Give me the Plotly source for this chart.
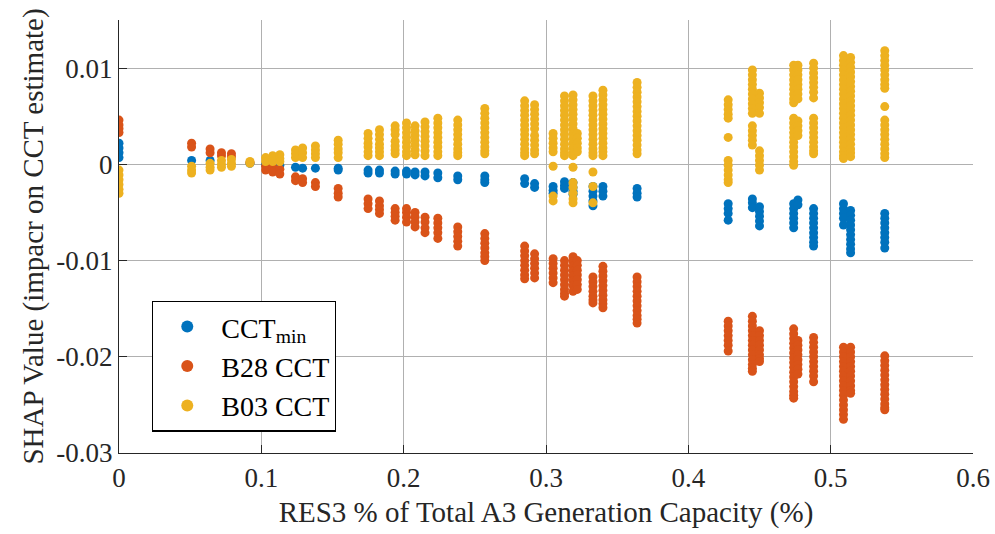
import plotly.graph_objects as go

# ---------------- data ----------------
CCT_X = [0.0, 0.051, 0.064, 0.092, 0.103, 0.108, 0.113, 0.124, 0.129, 0.138, 0.154,
         0.175, 0.183, 0.194, 0.202, 0.208, 0.215, 0.224, 0.238, 0.257, 0.285, 0.292,
         0.305, 0.313, 0.319, 0.333, 0.340, 0.364, 0.428, 0.445, 0.450, 0.474, 0.477,
         0.488, 0.509, 0.514, 0.538]
CCT_Y = [
    [0.0022, 0.0017, 0.0012, 0.0007],
    [0.0004], [0.0004], [0.0001], [0.0000], [-0.0001], [-0.0001],
    [-0.0003], [-0.0004], [-0.0004], [-0.0004, -0.0006],
    [-0.0006, -0.0009], [-0.0006, -0.0009], [-0.0007, -0.0010],
    [-0.0007, -0.0010], [-0.0008, -0.0011], [-0.0008, -0.0012],
    [-0.0009, -0.0014], [-0.0012, -0.0016], [-0.0012, -0.0016, -0.0019],
    [-0.0015, -0.0020], [-0.0020, -0.0024],
    [-0.0023, -0.0027, -0.0030], [-0.0018, -0.0022, -0.0025],
    [-0.0019, -0.0024, -0.0028, -0.0031],
    [-0.0023, -0.0028, -0.0033, -0.0038, -0.0043],
    [-0.0023, -0.0028, -0.0033], [-0.0025, -0.0030, -0.0034],
    [-0.0041, -0.0046, -0.0051, -0.0058],
    [-0.0036, -0.0040, -0.0045],
    [-0.0044, -0.0049, -0.0054, -0.0059, -0.0064],
    [-0.0041, -0.0046, -0.0051, -0.0056, -0.0061, -0.0066],
    [-0.0037, -0.0042],
    [-0.0046, -0.0051, -0.0056, -0.0061, -0.0066, -0.0071, -0.0076, -0.0081, -0.0085],
    [-0.0041, -0.0046, -0.0051, -0.0056, -0.0063],
    [-0.0048, -0.0053, -0.0058, -0.0063, -0.0068, -0.0073, -0.0078, -0.0083, -0.0088, -0.0092],
    [-0.0051, -0.0056, -0.0061, -0.0066, -0.0071, -0.0076, -0.0081, -0.0087],
]

B28_X = [0.0, 0.051, 0.064, 0.072, 0.079, 0.092, 0.103, 0.108, 0.113, 0.124, 0.129,
         0.138, 0.154, 0.175, 0.183, 0.194, 0.202, 0.208, 0.215, 0.224, 0.238, 0.257,
         0.285, 0.292, 0.305, 0.313, 0.319, 0.322, 0.333, 0.340, 0.364, 0.428, 0.445,
         0.450, 0.474, 0.477, 0.488, 0.509, 0.514, 0.538]
B28_Y = [
    [0.0046, 0.0041, 0.0037, 0.0033],
    [0.0022, 0.0018], [0.0016, 0.0012], [0.0012, 0.0009], [0.0011, 0.0008],
    [0.0002],
    [-0.0002, -0.0006], [-0.0003, -0.0008], [-0.0005, -0.0010],
    [-0.0013, -0.0017], [-0.0015, -0.0019], [-0.0019, -0.0023],
    [-0.0025, -0.0030, -0.0034],
    [-0.0036, -0.0041, -0.0046],
    [-0.0038, -0.0043, -0.0047, -0.0051],
    [-0.0046, -0.0050, -0.0054, -0.0058],
    [-0.0046, -0.0050, -0.0055, -0.0060],
    [-0.0050, -0.0055, -0.0060, -0.0065],
    [-0.0055, -0.0060, -0.0066, -0.0071],
    [-0.0056, -0.0061, -0.0066, -0.0071, -0.0077],
    [-0.0065, -0.0070, -0.0075, -0.0080, -0.0085],
    [-0.0072, -0.0077, -0.0082, -0.0087, -0.0092, -0.0096, -0.0100],
    [-0.0085, -0.0090, -0.0095, -0.0100, -0.0105, -0.0110, -0.0115, -0.0119],
    [-0.0093, -0.0098, -0.0103, -0.0108, -0.0113, -0.0118],
    [-0.0098, -0.0103, -0.0108, -0.0113, -0.0118, -0.0123],
    [-0.0100, -0.0105, -0.0110, -0.0115, -0.0120, -0.0125, -0.0130, -0.0134, -0.0137],
    [-0.0096, -0.0101, -0.0106, -0.0111, -0.0116, -0.0121, -0.0126, -0.0132],
    [-0.0100, -0.0105, -0.0110, -0.0115, -0.0120, -0.0125, -0.0130],
    [-0.0117, -0.0122, -0.0127, -0.0132, -0.0137, -0.0141, -0.0144],
    [-0.0106, -0.0111, -0.0116, -0.0121, -0.0126, -0.0131, -0.0136, -0.0141, -0.0145, -0.0149],
    [-0.0117, -0.0122, -0.0127, -0.0132, -0.0137, -0.0142, -0.0147, -0.0152, -0.0157, -0.0161, -0.0165],
    [-0.0163, -0.0168, -0.0173, -0.0178, -0.0183, -0.0188, -0.0194],
    [-0.0158, -0.0163, -0.0168, -0.0173, -0.0178, -0.0183, -0.0188, -0.0193, -0.0198,
     -0.0203, -0.0208, -0.0212, -0.0215],
    [-0.0173, -0.0178, -0.0183, -0.0188, -0.0193, -0.0198, -0.0202, -0.0205],
    [-0.0171, -0.0176, -0.0181, -0.0186, -0.0191, -0.0196, -0.0201, -0.0206, -0.0211,
     -0.0216, -0.0221, -0.0226, -0.0231, -0.0236, -0.0240, -0.0243],
    [-0.0183, -0.0188, -0.0193, -0.0198, -0.0203, -0.0208, -0.0213, -0.0218],
    [-0.0180, -0.0185, -0.0190, -0.0195, -0.0200, -0.0205, -0.0210, -0.0215, -0.0220, -0.0226],
    [-0.0190, -0.0195, -0.0200, -0.0205, -0.0210, -0.0215, -0.0220, -0.0225, -0.0230,
     -0.0235, -0.0240, -0.0245, -0.0250, -0.0255, -0.0260, -0.0265],
    [-0.0190, -0.0195, -0.0200, -0.0205, -0.0210, -0.0215, -0.0220, -0.0225, -0.0230,
     -0.0235, -0.0238],
    [-0.0199, -0.0204, -0.0209, -0.0214, -0.0219, -0.0224, -0.0229, -0.0234, -0.0239,
     -0.0244, -0.0249, -0.0253, -0.0255],
]

B03_X = [0.0, 0.051, 0.064, 0.072, 0.079, 0.092, 0.103, 0.108, 0.113, 0.124, 0.129,
         0.138, 0.154, 0.175, 0.183, 0.194, 0.202, 0.208, 0.215, 0.224, 0.238, 0.257,
         0.285, 0.292, 0.305, 0.313, 0.319, 0.322, 0.333, 0.340, 0.364, 0.428, 0.445,
         0.450, 0.474, 0.477, 0.488, 0.509, 0.514, 0.538]
B03_Y = [
    [-0.0006, -0.0011, -0.0016, -0.0021, -0.0026, -0.0030],
    [-0.0002, -0.0006, -0.0009],
    [0.0001, -0.0003, -0.0006],
    [0.0004, 0.0000, -0.0003],
    [0.0005, 0.0001, -0.0002],
    [0.0003, 0.0001],
    [0.0007, 0.0003],
    [0.0009, 0.0006, 0.0003],
    [0.0010, 0.0006, 0.0003],
    [0.0015, 0.0011, 0.0007],
    [0.0017, 0.0012, 0.0007],
    [0.0019, 0.0015, 0.0011, 0.0007],
    [0.0025, 0.0021, 0.0016, 0.0012, 0.0007],
    [0.0032, 0.0027, 0.0022, 0.0018, 0.0013, 0.0009],
    [0.0036, 0.0031, 0.0026, 0.0021, 0.0017, 0.0013, 0.0009],
    [0.0040, 0.0036, 0.0031, 0.0024, 0.0019, 0.0015, 0.0011],
    [0.0043, 0.0038, 0.0033, 0.0028, 0.0023, 0.0018, 0.0013, 0.0009],
    [0.0040, 0.0035, 0.0030, 0.0025, 0.0020, 0.0015, 0.0010],
    [0.0044, 0.0039, 0.0034, 0.0029, 0.0024, 0.0019, 0.0014, 0.0009],
    [0.0048, 0.0043, 0.0038, 0.0033, 0.0028, 0.0023, 0.0018, 0.0013, 0.0009],
    [0.0046, 0.0041, 0.0036, 0.0031, 0.0026, 0.0021, 0.0016, 0.0012, 0.0009],
    [0.0058, 0.0053, 0.0048, 0.0043, 0.0038, 0.0033, 0.0028, 0.0023, 0.0018, 0.0014, 0.0011],
    [0.0066, 0.0061, 0.0056, 0.0051, 0.0046, 0.0041, 0.0036, 0.0031, 0.0026, 0.0021,
     0.0016, 0.0012, 0.0009],
    [0.0062, 0.0057, 0.0052, 0.0047, 0.0042, 0.0037, 0.0030, 0.0025, 0.0020, 0.0015, 0.0011],
    [0.0032, 0.0027, 0.0022, 0.0017, 0.0013, -0.0002, -0.0033, -0.0038],
    [0.0071, 0.0066, 0.0061, 0.0056, 0.0051, 0.0046, 0.0041, 0.0036, 0.0031, 0.0026,
     0.0021, 0.0016, 0.0012, 0.0009],
    [0.0072, 0.0067, 0.0062, 0.0057, 0.0052, 0.0047, 0.0042, 0.0037, 0.0032, 0.0027,
     0.0022, 0.0017, 0.0012, 0.0009, -0.0003, -0.0019, -0.0024, -0.0030, -0.0036, -0.0040],
    [0.0032, 0.0027, 0.0022, 0.0017, 0.0013],
    [0.0071, 0.0066, 0.0061, 0.0056, 0.0051, 0.0046, 0.0041, 0.0036, 0.0031, 0.0026,
     0.0021, 0.0016, 0.0012, 0.0009, -0.0008, -0.0023, -0.0040],
    [0.0077, 0.0072, 0.0067, 0.0062, 0.0057, 0.0052, 0.0047, 0.0042, 0.0037, 0.0032,
     0.0027, 0.0022, 0.0017, 0.0013, 0.0009],
    [0.0085, 0.0080, 0.0075, 0.0070, 0.0065, 0.0060, 0.0055, 0.0050, 0.0045, 0.0040,
     0.0035, 0.0030, 0.0025, 0.0020, 0.0015, 0.0011],
    [0.0067, 0.0062, 0.0057, 0.0052, 0.0048, 0.0028, 0.0004, -0.0001, -0.0006, -0.0011,
     -0.0016, -0.0019],
    [0.0098, 0.0093, 0.0088, 0.0083, 0.0078, 0.0073, 0.0068, 0.0063, 0.0058, 0.0053,
     0.0040, 0.0035, 0.0030, 0.0025, 0.0020],
    [0.0074, 0.0069, 0.0064, 0.0059, 0.0053, 0.0014, 0.0009, 0.0004, -0.0001, -0.0006],
    [0.0103, 0.0098, 0.0093, 0.0088, 0.0083, 0.0078, 0.0073, 0.0068, 0.0064, 0.0048,
     0.0043, 0.0038, 0.0033, 0.0028, 0.0023, 0.0018, 0.0013, 0.0008, 0.0003, -0.0001],
    [0.0103, 0.0098, 0.0093, 0.0088, 0.0083, 0.0078, 0.0073, 0.0068, 0.0045, 0.0040,
     0.0035, 0.0030],
    [0.0105, 0.0100, 0.0095, 0.0090, 0.0085, 0.0080, 0.0075, 0.0069, 0.0048, 0.0043,
     0.0038, 0.0033, 0.0028, 0.0023, 0.0018, 0.0014, 0.0011],
    [0.0113, 0.0108, 0.0103, 0.0098, 0.0093, 0.0088, 0.0083, 0.0078, 0.0073, 0.0068,
     0.0063, 0.0058, 0.0053, 0.0048, 0.0043, 0.0038, 0.0033, 0.0028, 0.0023, 0.0018,
     0.0013, 0.0009, 0.0006],
    [0.0111, 0.0106, 0.0101, 0.0096, 0.0091, 0.0086, 0.0081, 0.0076, 0.0071, 0.0066,
     0.0061, 0.0056, 0.0051, 0.0046, 0.0041, 0.0036, 0.0031, 0.0026, 0.0021, 0.0016,
     0.0012, 0.0008],
    [0.0118, 0.0113, 0.0108, 0.0103, 0.0098, 0.0093, 0.0088, 0.0083, 0.0079, 0.0060,
     0.0046, 0.0041, 0.0036, 0.0031, 0.0026, 0.0021, 0.0016, 0.0011, 0.0007],
]

SERIES_NAMES = ["CCT<sub>min</sub>", "B28 CCT", "B03 CCT"]
SERIES_COLORS = ["#0072BD", "#D95319", "#EDB120"]
X_TICKS = [0, 0.1, 0.2, 0.3, 0.4, 0.5, 0.6]
X_TICK_TEXT = ["0", "0.1", "0.2", "0.3", "0.4", "0.5", "0.6"]
Y_TICKS = [-0.03, -0.02, -0.01, 0, 0.01]
Y_TICK_TEXT = ["-0.03", "-0.02", "-0.01", "0", "0.01"]


def flatten(xs, ys):
    fx, fy = [], []
    for x, col in zip(xs, ys):
        for v in col:
            fx.append(x)
            fy.append(v)
    return fx, fy


FONT = "Liberation Serif, Times New Roman, serif"
TXT = "#262626"

fig = go.Figure()
for (xs, ys), name, color in zip([(CCT_X, CCT_Y), (B28_X, B28_Y), (B03_X, B03_Y)],
                                 SERIES_NAMES, SERIES_COLORS):
    fx, fy = flatten(xs, ys)
    fig.add_trace(go.Scatter(
        x=fx, y=fy, mode="markers", name=name,
        marker=dict(color=color, size=9, line=dict(width=0)),
    ))

axis_common = dict(
    showline=True, linecolor=TXT, linewidth=1.3, mirror=False,
    ticks="inside", ticklen=8, tickwidth=1.2, tickcolor=TXT,
    showgrid=True, gridcolor="#b0b0b0", gridwidth=1,
    zeroline=False, automargin=False,
    tickfont=dict(family=FONT, size=27, color=TXT),
)

fig.update_layout(
    width=995, height=534,
    margin=dict(l=119, r=22, t=20, b=81),
    paper_bgcolor="white", plot_bgcolor="white",
    font=dict(family=FONT, size=27, color=TXT),
    xaxis=dict(range=[0, 0.6], tickvals=X_TICKS, ticktext=X_TICK_TEXT,
               title=dict(text="RES3 % of Total A3 Generation Capacity (%)",
                          font=dict(family=FONT, size=29, color=TXT), standoff=10),
               **axis_common),
    yaxis=dict(range=[-0.03, 0.015], tickvals=Y_TICKS, ticktext=Y_TICK_TEXT,
               title=dict(text="SHAP Value (impacr on CCT estimate)",
                          font=dict(family=FONT, size=29, color=TXT), standoff=4),
               **axis_common),
    legend=dict(
        x=0.0386, y=0.352, xanchor="left", yanchor="top",
        bgcolor="white", bordercolor="#000000", borderwidth=1.3,
        font=dict(family=FONT, size=28, color="#000000"),
        itemsizing="constant", itemwidth=58, tracegroupgap=0,
    ),
    showlegend=True,
)

fig.write_html("out.html")
